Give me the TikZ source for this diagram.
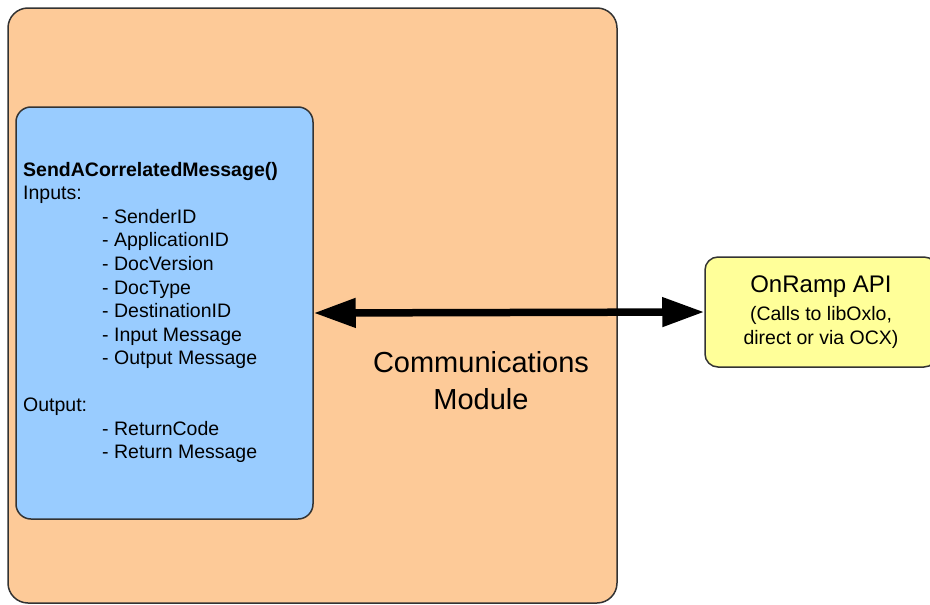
\documentclass[tikz,border=0pt]{standalone}
\usepackage{fontspec}
\setmainfont{Liberation Sans}
\usetikzlibrary{arrows.meta}
\definecolor{modorange}{HTML}{FDCA98}
\definecolor{fnblue}{HTML}{99CCFF}
\definecolor{apiyellow}{HTML}{FFFF99}
\definecolor{edgegray}{HTML}{333333}
\begin{document}
\begin{tikzpicture}[x=1pt,y=-1pt,
  boxstyle/.style={draw=edgegray, line width=1.5pt, inner sep=0pt},
  conn/.style={line width=7.5pt, {Triangle[length=42pt,width=28pt]}-{Triangle[length=42pt,width=28pt]}, shorten <=0pt, shorten >=0pt},
  body/.style={font=\fontsize{19.5}{23.55}\selectfont, align=left, inner sep=0pt, text=black}
]
\useasboundingbox (0,0) rectangle (930,605);
\node[boxstyle, fill=modorange, rounded corners=20pt, minimum width=609pt, minimum height=595pt] (module) at (312.5,305.5) {};
\node[boxstyle, fill=fnblue, rounded corners=15pt, minimum width=297pt, minimum height=412pt] (func) at (164.5,313) {};
\node[boxstyle, fill=apiyellow, rounded corners=13pt, minimum width=232pt, minimum height=110pt, align=center, font=\fontsize{19.5}{23.5}\selectfont] (api) at (821,312) {{\fontsize{24}{24}\selectfont OnRamp API}\\[5pt](Calls to libOxlo,\\direct or via OCX)};
\node[body, anchor=north west] (ftext) at (23,162) {\textbf{SendACorrelatedMessage()}\\
Inputs:\\
\hspace*{79pt}- SenderID\\
\hspace*{79pt}- ApplicationID\\
\hspace*{79pt}- DocVersion\\
\hspace*{79pt}- DocType\\
\hspace*{79pt}- DestinationID\\
\hspace*{79pt}- Input Message\\
\hspace*{79pt}- Output Message\\[23.55pt]
Output:\\
\hspace*{79pt}- ReturnCode\\
\hspace*{79pt}- Return Message};
\node[align=center, inner sep=0pt, font=\fontsize{29}{37}\selectfont] (label) at (481,381) {Communications\\Module};
\draw[conn] (func.east) -- (api.west);
\end{tikzpicture}
\end{document}
